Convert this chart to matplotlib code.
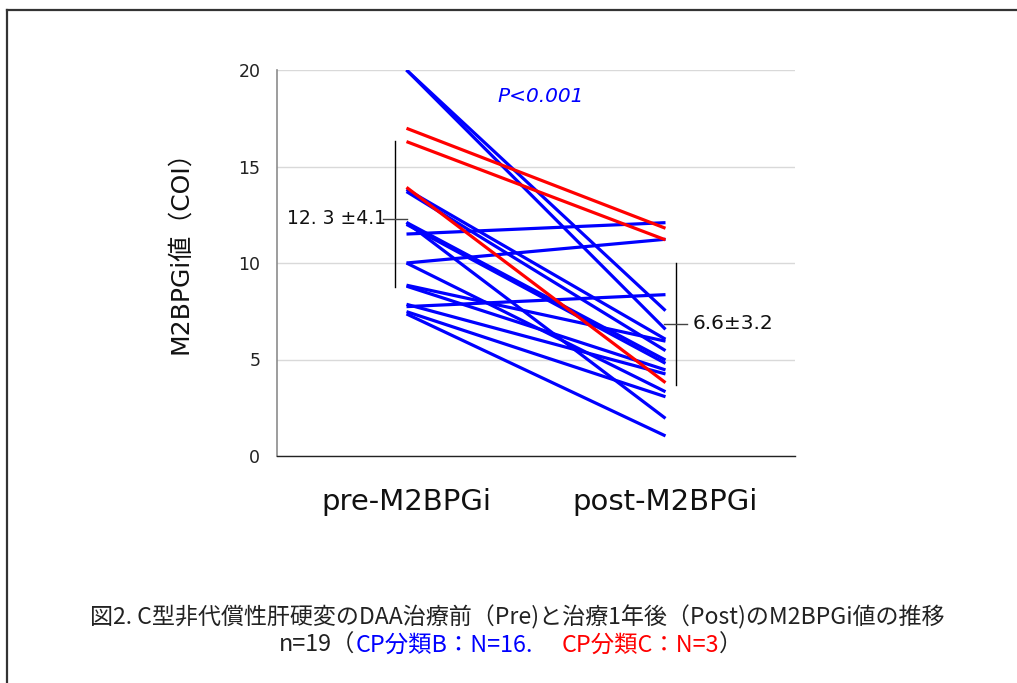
import matplotlib
matplotlib.use('Agg')
import matplotlib.pyplot as plt
from matplotlib.lines import Line2D

# ---------------- data ----------------
categories = ['pre-M2BPGi', 'post-M2BPGi']
blue_pre  = [20.0, 20.0, 11.5, 10.0, 7.74, 13.82, 13.7, 7.36, 12.1, 12.0, 12.1, 10.0, 8.85, 8.8, 7.86, 7.48]
blue_post = [7.53, 6.56, 12.09, 11.23, 8.36, 6.05, 5.46, 1.04, 4.97, 4.80, 1.95, 3.33, 5.95, 4.46, 4.25, 3.07]
red_pre  = [16.98, 16.29, 13.92]
red_post = [11.8, 11.2, 3.8]
pre_mean_label = '12. 3 ±4.1'
post_mean_label = '6.6±3.2'
pre_bar = (8.75, 12.3, 16.3)     # low, centre tick, high (as drawn)
post_bar = (3.68, 6.85, 10.0)
p_label = 'P<0.001'
yticks = [0, 5, 10, 15, 20]

BLUE = '#0000FF'
RED = '#FF0000'

fig = plt.figure(figsize=(10.17, 6.83), dpi=100)
W, H = 1017, 683
ax = fig.add_axes([277 / W, 1 - 456 / H, (795 - 277) / W, (456 - 70) / H])

x = [0, 1]
for a, b in zip(blue_pre, blue_post):
    ax.plot(x, [a, b], color=BLUE, lw=2.3, solid_capstyle='butt', zorder=3)
for a, b in zip(red_pre, red_post):
    ax.plot(x, [a, b], color=RED, lw=2.3, solid_capstyle='butt', zorder=4)

ax.set_xlim(-0.5, 1.5)
ax.set_ylim(0, 20)
ax.set_yticks(yticks)
ax.set_yticklabels([str(v) for v in yticks], fontsize=12.5, color='#222222')
ax.set_xticks(x)
ax.set_xticklabels(categories, fontsize=21, color='#111111')
ax.tick_params(axis='both', length=0)
ax.tick_params(axis='y', pad=12)
ax.tick_params(axis='x', pad=23)
ax.grid(axis='y', color='#d9d9d9', lw=1.0)
ax.set_axisbelow(True)
for s in ['top', 'right']:
    ax.spines[s].set_visible(False)
ax.spines['left'].set_color('#8c8c8c')
ax.spines['left'].set_linewidth(1.2)
ax.spines['bottom'].set_color('#222222')
ax.spines['bottom'].set_linewidth(1.0)

# mean +- sd brackets
ax.plot([-0.044, -0.044], [pre_bar[0], pre_bar[2]], color='black', lw=1.0, zorder=2)
ax.plot([-0.091, 0.002], [pre_bar[1], pre_bar[1]], color='#444444', lw=1.0, zorder=2)
ax.text(-0.079, pre_bar[1], pre_mean_label, ha='right', va='center', fontsize=13.5, color='#111111')

ax.plot([1.041, 1.041], [post_bar[0], post_bar[2]], color='black', lw=1.0, zorder=2)
ax.plot([0.994, 1.083], [post_bar[1], post_bar[1]], color='#444444', lw=1.0, zorder=2)
ax.text(1.106, post_bar[1], post_mean_label, ha='left', va='center', fontsize=14.5, color='#111111')

ax.text(0.353, 18.65, p_label, ha='left', va='center', fontsize=14.5,
        style='italic', color=BLUE)

# y label
fig.text(180 / W, 1 - 246 / H, 'M2BPGi値（COI）', rotation=90, ha='center', va='center',
         fontsize=18, color='#111111', family=['DejaVu Sans', 'Noto Sans CJK JP'])

# captions
cap_font = ['Noto Sans CJK JP', 'DejaVu Sans']
fig.text(517 / W, 1 - 617 / H,
         '図2. C型非代償性肝硬変のDAA治療前（Pre)と治療1年後（Post)のM2BPGi値の推移',
         ha='center', va='center', fontsize=16.6, color='#222222', family=cap_font)

parts = [('n=19（', '#222222'), ('CP分類B：N=16.', BLUE), ('　 ', '#222222'),
         ('CP分類C：N=3', RED), ('）', '#222222')]
fig.canvas.draw()
renderer = fig.canvas.get_renderer()
texts = []
for s, c in parts:
    t = fig.text(0, 1 - 645 / H, s, color=c, ha='left', va='center', fontsize=16.8, family=cap_font)
    texts.append(t)
widths = [t.get_window_extent(renderer).width for t in texts]
total = sum(widths)
start = 511 - total / 2
for t, w in zip(texts, widths):
    t.set_x(start / W)
    start += w

# outer frame (left and top)
fig.add_artist(Line2D([7 / W, 7 / W], [0, 1 - 10 / H], color='#333333', lw=1.6))
fig.add_artist(Line2D([7 / W, 1.0], [1 - 10 / H, 1 - 10 / H], color='#333333', lw=1.6))

fig.savefig('out.png', dpi=100, facecolor='white')
